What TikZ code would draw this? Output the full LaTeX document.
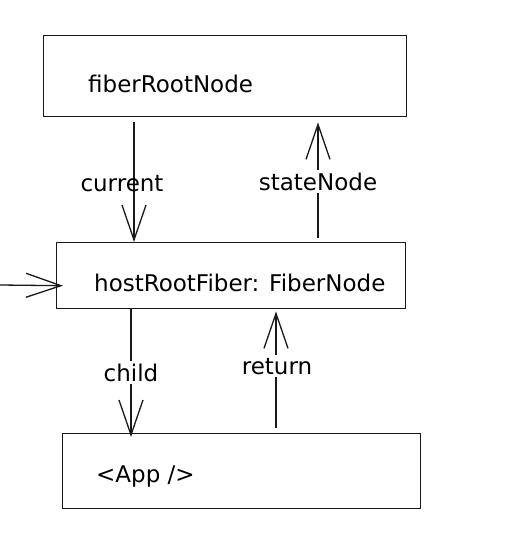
\documentclass[tikz,border=0pt]{standalone}
\usepackage{fontspec}
\setmainfont{DejaVu Sans}
\usetikzlibrary{arrows.meta}
\begin{document}
\begin{tikzpicture}[x=1pt,y=-1pt,
  box/.style={draw=black!90, line width=1.4pt, rectangle, inner sep=0pt, anchor=north west},
  txt/.style={font=\fontsize{23}{25}\selectfont, inner sep=0pt, anchor=base west},
  lbl/.style={font=\fontsize{23}{25}\selectfont, inner sep=3pt, anchor=base},
  arr/.style={line width=1.3pt, draw=black!90, -{Straight Barb[length=35pt,width=24pt,line width=1.3pt]}}]
\useasboundingbox (0,0) rectangle (518,560);
\fill[white] (0,0) rectangle (518,560);
% boxes
\node (b1) [box, minimum width=363pt, minimum height=81pt] at (43,35) {};
\node (b2) [box, minimum width=349pt, minimum height=66pt] at (56,242) {};
\node (b3) [box, minimum width=358pt, minimum height=75pt] at (62,433) {};
\node (t1) [txt] at (88,92) {fiberRootNode};
\node (t2) [txt] at (94,291) {hostRootFiber: FiberNode};
\node (t3) [txt] at (96,482) {<App />};
% connectors
\coordinate (in) at (0,285);
\draw[arr] ([shift={(91,5)}]b1.south west) -- ([shift={(78,0)}]b2.north west);
\node (lc) [lbl, inner sep=0pt] at (122,191) {current};
\draw[arr] ([shift={(262,-4)}]b2.north west) -- ([shift={(275,5)}]b1.south west);
\node (ls) [lbl, fill=white] at (318,190) {stateNode};
\draw[arr] (in) -- ([shift={(7,10)}]b2.west);
\draw[arr] ([shift={(75,0)}]b2.south west) -- ([shift={(69,4)}]b3.north west);
\node (lch) [lbl, fill=white] at (131,381) {child};
\draw[arr] ([shift={(214,-5)}]b3.north west) -- ([shift={(220,2)}]b2.south west);
\node (lr) [lbl, fill=white] at (277,374) {return};
\end{tikzpicture}
\end{document}
